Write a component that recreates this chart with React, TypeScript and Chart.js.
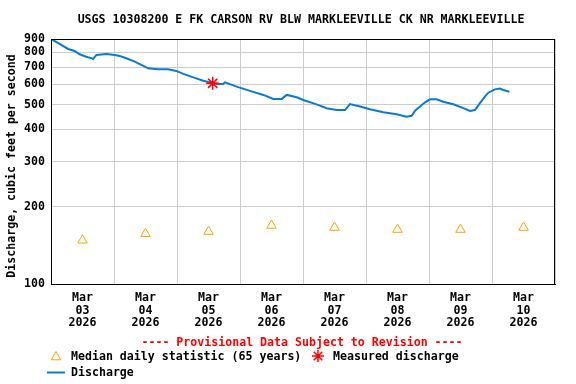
import React, { useEffect, useRef } from 'react';
import { Chart, registerables } from 'chart.js';
import { drawPoint } from 'chart.js/helpers';

Chart.register(...registerables);

const TITLE = 'USGS 10308200 E FK CARSON RV BLW MARKLEEVILLE CK NR MARKLEEVILLE';
const Y_AXIS_TITLE = 'Discharge, cubic feet per second';
const PROVISIONAL = '---- Provisional Data Subject to Revision ----';
const LEGEND_MEDIAN = 'Median daily statistic (65 years)';
const LEGEND_MEASURED = 'Measured discharge';
const LEGEND_DISCHARGE = 'Discharge';

const MONTH = 'Mar';
const YEAR = '2026';
const DAY_LABELS = ['03', '04', '05', '06', '07', '08', '09', '10'];
const Y_TICKS = [100, 200, 300, 400, 500, 600, 700, 800, 900];
const X_MAX_HOURS = 192;

// hours since Mar 03 2026 00:00
const MEDIAN_HOURS = [12, 36, 60, 84, 108, 132, 156, 180];
const MEDIAN_VALUES = [148, 157, 160, 169, 166, 163, 163, 166];

const MEASURED_HOURS = [61.6];
const MEASURED_VALUES = [605];

const DISCHARGE_HOURS = [
  0.4, 3.3, 6.5, 9.0, 10.9, 13.4, 15.6, 16.0, 17.3, 21.1, 24.3, 26.2, 28.7, 31.9,
  35.0, 37.0, 40.8, 44.6, 47.7, 50.4, 54.2, 58.0, 63.1, 65.6, 66.3, 70.7, 75.8,
  80.9, 84.7, 87.9, 89.8, 93.6, 96.1, 101.2, 105.0, 108.8, 112.0, 113.9, 117.7,
  121.5, 126.6, 131.7, 135.5, 137.4, 138.7, 140.6, 142.5, 144.4, 146.9, 149.4,
  153.3, 157.1, 159.6, 161.5, 163.4, 165.3, 166.6, 169.1, 171.0, 172.3, 174.6,
];
const DISCHARGE_VALUES = [
  895, 861, 823, 808, 785, 768, 757, 752, 780, 787, 780, 773, 757, 735,
  709, 692, 686, 686, 676, 658, 638, 619, 601, 601, 610, 587, 565,
  545, 526, 526, 545, 534, 521, 501, 484, 476, 476, 502, 491,
  479, 467, 458, 448, 452, 473, 491, 510, 524, 524, 513,
  501, 484, 472, 476, 506, 537, 556, 573, 577, 570, 561,
];

const FONT_FAMILY = '"DejaVu Sans Mono", monospace';
const LINE_COLOR = '#0a7ccf';
const MEDIAN_COLOR = '#ffa000';
const MEASURED_COLOR = '#ff0000';

const overlayPlugin = {
  id: 'usgsOverlay',
  afterDraw(chart: any) {
    const ctx = chart.ctx as CanvasRenderingContext2D;
    const ca = chart.chartArea;
    ctx.save();
    // plot frame
    ctx.strokeStyle = '#000';
    ctx.lineWidth = 1;
    ctx.strokeRect(Math.round(ca.left) + 0.5, Math.round(ca.top) + 0.5,
      Math.round(ca.right - ca.left) - 1, Math.round(ca.bottom - ca.top));

    ctx.fillStyle = '#000';
    ctx.textBaseline = 'middle';
    // title
    ctx.font = `bold 11.6px ${FONT_FAMILY}`;
    ctx.textAlign = 'center';
    ctx.fillText(TITLE, 301, 20);

    // y axis title
    ctx.save();
    ctx.translate(12, 166);
    ctx.rotate(-Math.PI / 2);
    ctx.font = `bold 11.6px ${FONT_FAMILY}`;
    ctx.fillText(Y_AXIS_TITLE, 0, 0);
    ctx.restore();

    // provisional
    ctx.font = `bold 11.6px ${FONT_FAMILY}`;
    ctx.fillStyle = MEASURED_COLOR;
    ctx.fillText(PROVISIONAL, 302, 343);

    // legend
    ctx.textAlign = 'left';
    ctx.fillStyle = '#000';
    ctx.fillText(LEGEND_MEDIAN, 71, 357);
    ctx.fillText(LEGEND_MEASURED, 333, 357);
    ctx.fillText(LEGEND_DISCHARGE, 71, 373);

    ctx.fillStyle = 'rgba(0,0,0,0)';
    ctx.strokeStyle = MEDIAN_COLOR;
    ctx.lineWidth = 1;
    drawPoint(ctx, { pointStyle: 'triangle', radius: 5.5, rotation: 0, borderWidth: 1 } as any, 56, 357);
    ctx.strokeStyle = MEASURED_COLOR;
    ctx.lineWidth = 1.5;
    drawPoint(ctx, { pointStyle: 'star', radius: 6, rotation: 0, borderWidth: 1.5 } as any, 318, 356);

    ctx.strokeStyle = LINE_COLOR;
    ctx.lineWidth = 2;
    ctx.beginPath();
    ctx.moveTo(47, 372.5);
    ctx.lineTo(65, 372.5);
    ctx.stroke();
    ctx.restore();
  },
};

export default function App() {
  const canvasRef = useRef<HTMLCanvasElement | null>(null);

  useEffect(() => {
    document.body.style.margin = '0';
    const canvas = canvasRef.current;
    if (!canvas) return;
    const tickFont = { family: FONT_FAMILY, size: 11.6, weight: 'bold' as const, lineHeight: 1.12 };

    const chart = new Chart(canvas, {
      type: 'line',
      data: {
        datasets: [
          {
            label: LEGEND_MEASURED,
            data: MEASURED_HOURS.map((h, i) => ({ x: h, y: MEASURED_VALUES[i] })),
            showLine: false,
            pointStyle: 'star',
            pointRadius: 6.5,
            pointBorderWidth: 1.5,
            pointBorderColor: MEASURED_COLOR,
            pointBackgroundColor: MEASURED_COLOR,
            borderColor: MEASURED_COLOR,
          },
          {
            label: LEGEND_MEDIAN,
            data: MEDIAN_HOURS.map((h, i) => ({ x: h, y: MEDIAN_VALUES[i] })),
            showLine: false,
            pointStyle: 'triangle',
            pointRadius: 5.5,
            pointBorderWidth: 1,
            pointBorderColor: MEDIAN_COLOR,
            pointBackgroundColor: 'rgba(0,0,0,0)',
            borderColor: MEDIAN_COLOR,
          },
          {
            label: LEGEND_DISCHARGE,
            data: DISCHARGE_HOURS.map((h, i) => ({ x: h, y: DISCHARGE_VALUES[i] })),
            borderColor: LINE_COLOR,
            borderWidth: 2,
            pointRadius: 0,
            tension: 0,
            fill: false,
          },
        ],
      },
      options: {
        animation: false,
        responsive: true,
        maintainAspectRatio: false,
        layout: { padding: { left: 0, top: 39, right: 21, bottom: 40 } },
        plugins: {
          legend: { display: false },
          title: { display: false },
          tooltip: { enabled: false },
        },
        scales: {
          x: {
            type: 'linear',
            min: 0,
            max: X_MAX_HOURS,
            afterBuildTicks: (scale: any) => {
              const ticks = [];
              for (let i = 0; i <= DAY_LABELS.length; i++) {
                ticks.push({ value: i * 24 });
                if (i < DAY_LABELS.length) ticks.push({ value: i * 24 + 12 });
              }
              scale.ticks = ticks;
            },
            afterFit: (scale: any) => { scale.height = 60; },
            grid: {
              drawTicks: false,
              lineWidth: 1,
              color: (c: any) => (c.tick && c.tick.value % 24 === 0 ? '#cccccc' : 'rgba(0,0,0,0)'),
            },
            border: { display: true, color: '#000', width: 1 },
            ticks: {
              autoSkip: false,
              maxRotation: 0,
              minRotation: 0,
              padding: 7,
              color: '#000',
              font: tickFont,
              callback: (v: any) => {
                const n = Number(v);
                if (n % 24 !== 12) return '';
                return [MONTH, DAY_LABELS[(n - 12) / 24], YEAR];
              },
            },
          },
          y: {
            type: 'logarithmic',
            min: 100,
            max: 900,
            afterBuildTicks: (scale: any) => {
              scale.ticks = Y_TICKS.map((v) => ({ value: v }));
            },
            afterFit: (scale: any) => { scale.width = 51; },
            grid: { drawTicks: false, color: '#cccccc', lineWidth: 1 },
            border: { display: true, color: '#000', width: 1 },
            ticks: {
              padding: 6,
              color: '#000',
              font: tickFont,
              callback: (v: any) => String(v),
            },
          },
        },
      },
      plugins: [overlayPlugin],
    } as any);

    return () => chart.destroy();
  }, []);

  return (
    <div style={{ width: 576, height: 384, position: 'relative', background: '#fff' }}>
      <canvas ref={canvasRef} />
    </div>
  );
}
